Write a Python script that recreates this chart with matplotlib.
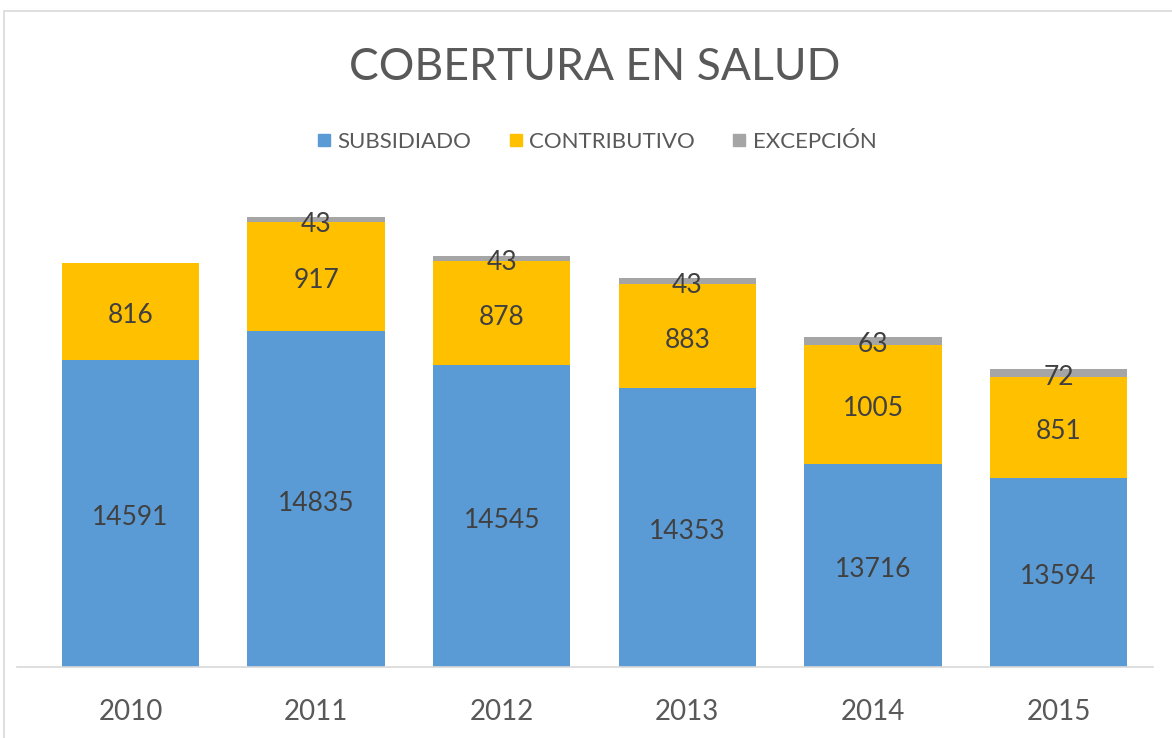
import matplotlib
matplotlib.use("Agg")
import matplotlib.pyplot as plt
from matplotlib.patches import Rectangle
from matplotlib.lines import Line2D

years = ["2010", "2011", "2012", "2013", "2014", "2015"]
subsidiado = [14591, 14835, 14545, 14353, 13716, 13594]
contributivo = [816, 917, 878, 883, 1005, 851]
excepcion = [0, 43, 43, 43, 63, 72]
series_names = ["SUBSIDIADO", "CONTRIBUTIVO", "EXCEPCIÓN"]
colors = ["#5B9BD5", "#FFC000", "#A5A5A5"]

plt.rcParams['font.family'] = ['Lato', 'DejaVu Sans']

W, H = 1172, 738
fig = plt.figure(figsize=(W/100, H/100), dpi=100)

def fx(px):
    return px / W
def fy(py):
    return 1 - py / H

# chart border
fig.patches.append(Rectangle((fx(4), fy(1200)), fx(1200), fy(11) - fy(1200),
                             transform=fig.transFigure, fill=False,
                             edgecolor="#D9D9D9", linewidth=1.2))

ax = fig.add_axes([fx(17), fy(667), fx(1153) - fx(17), fy(193) - fy(667)])
x = list(range(len(years)))
xl = (17 - 130.5) / 185.6
xr = (1153 - 130.5) / 185.6
ax.set_xlim(xl, xr)
ax.set_ylim(12000, 16000)

width = 0.74
bottoms = [0] * len(years)
all_series = [subsidiado, contributivo, excepcion]
for vals, name, c in zip(all_series, series_names, colors):
    ax.bar(x, vals, width, bottom=bottoms, color=c, label=name, zorder=2)
    for i, v in enumerate(vals):
        if v <= 0:
            continue
        lo = max(bottoms[i], 12000)
        hi = bottoms[i] + v
        ax.annotate(str(v), (i, (lo + hi) / 2), xytext=(0, -3),
                    textcoords="offset points", ha="center", va="center",
                    fontsize=19, color="#404040", zorder=3)
    bottoms = [b + v for b, v in zip(bottoms, vals)]

for s in ["top", "right", "left"]:
    ax.spines[s].set_visible(False)
ax.spines["bottom"].set_color("#D9D9D9")
ax.spines["bottom"].set_linewidth(1.2)
ax.spines["bottom"].set_zorder(4)
ax.set_yticks([])
ax.set_xticks(x)
ax.set_xticklabels(years, fontsize=20, color="#595959")
ax.tick_params(axis="x", length=0, pad=23)

fig.text(fx(595), fy(68), "COBERTURA EN SALUD", ha="center", va="center",
         fontsize=32, color="#595959", fontweight="normal")

handles = [Line2D([0], [0], marker="s", linestyle="", markersize=9,
                  markerfacecolor=c, markeredgecolor=c) for c in colors]
fig.legend(handles, series_names, loc="center", bbox_to_anchor=(fx(597), fy(142)),
           ncol=3, frameon=False, fontsize=16, handlelength=0.6,
           handletextpad=0.3, columnspacing=1.7, labelcolor="#595959")

fig.savefig("out.png", dpi=100)
